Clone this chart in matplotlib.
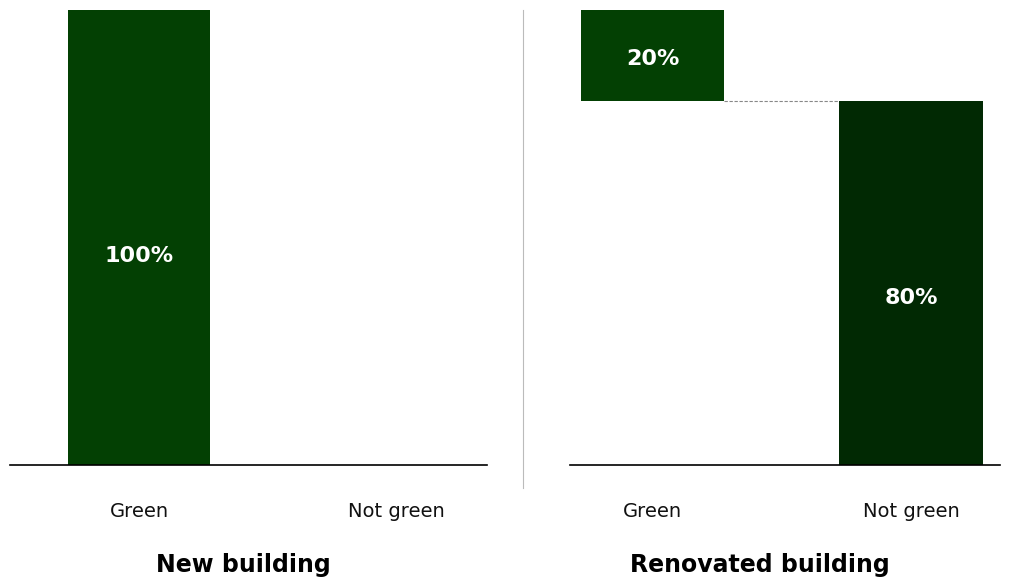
import matplotlib.pyplot as plt

categories = ["Green", "Not green"]
new_values = [100, 0]
reno_values = [20, 80]
reno_bottoms = [80, 0]
titles = ["New building", "Renovated building"]

c_green = "#034003"
c_dark = "#012903"

fig = plt.figure(figsize=(10.27, 5.8), dpi=100)
ax1 = fig.add_axes([0.0097, 0.1983, 0.4645, 0.7845])
ax2 = fig.add_axes([0.555, 0.1983, 0.4187, 0.7845])

w = 0.556
lab_kw = dict(ha="center", va="center", color="white", fontsize=16,
              fontweight="bold", fontfamily="DejaVu Sans")
ax1.bar([0, 1], new_values, width=w, color=[c_green, c_dark])
ax1.text(0, new_values[0] * 0.46, f"{new_values[0]}%", **lab_kw)
ax1.set_xlim(-0.502, 1.354)

ax2.bar([0, 1], reno_values, bottom=reno_bottoms, width=w, color=[c_green, c_dark])
for i in range(2):
    ax2.text(i, reno_bottoms[i] + reno_values[i] * 0.46, f"{reno_values[i]}%", **lab_kw)
ax2.plot([w / 2, 1 - w / 2], [reno_bottoms[0], reno_bottoms[0]], ls="--",
         color="#888888", lw=0.8, dashes=(3, 1.5))
ax2.set_xlim(-0.32, 1.345)

for ax in [ax1, ax2]:
    ax.set_ylim(0, 100)
    for s in ["top", "right", "left"]:
        ax.spines[s].set_visible(False)
    ax.spines["bottom"].set_linewidth(1.2)
    ax.set_yticks([])
    ax.set_xticks([0, 1])
    ax.set_xticklabels(categories, fontsize=14, color="#111111", fontfamily="DejaVu Sans")
    ax.tick_params(axis="x", length=0, pad=27)

fig.text(243 / 1027, 1 - 565 / 580, titles[0], ha="center", va="center",
         fontsize=17, fontweight="heavy", fontfamily="DejaVu Sans")
fig.text(760 / 1027, 1 - 565 / 580, titles[1], ha="center", va="center",
         fontsize=17, fontweight="heavy", fontfamily="DejaVu Sans")
fig.add_artist(plt.Line2D([523 / 1027, 523 / 1027], [1 - 488 / 580, 1 - 10 / 580],
                          color="#bbbbbb", lw=0.8))

fig.savefig("out.png", dpi=100)
